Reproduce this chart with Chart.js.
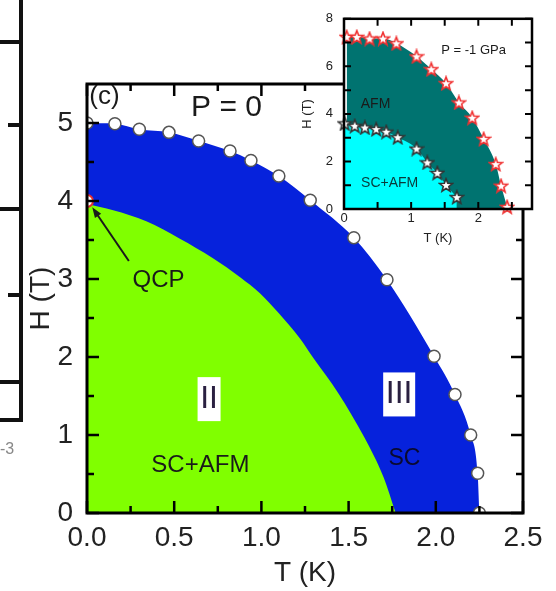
<!DOCTYPE html>
<html>
<head>
<meta charset="utf-8">
<script src="https://cdn.jsdelivr.net/npm/chart.js@4.4.1/dist/chart.umd.min.js"></script>
<style>
    html, body { margin: 0; padding: 0; background: #fff; }
    #wrap { position: relative; width: 556px; height: 591px; overflow: hidden; font-family: "Liberation Sans", Arial, sans-serif; }
    #main { position: absolute; left: 0; top: 0; }
    #inset { position: absolute; left: 290px; top: 0; }
    .ln { position: absolute; background: #111; }
    .txt { position: absolute; color: #888; font-size: 16px; }
</style>
</head>
<body>
<div id="wrap">
    <canvas id="main" width="556" height="591"></canvas>
    <canvas id="inset" width="266" height="255"></canvas>
    <!-- edge of the neighbouring panel, cut off at the left -->
    <div class="ln" style="left:19px;top:0;width:4px;height:422px"></div>
    <div class="ln" style="left:0;top:40px;width:21px;height:4px"></div>
    <div class="ln" style="left:8px;top:123px;width:13px;height:4px"></div>
    <div class="ln" style="left:0;top:207px;width:21px;height:4px"></div>
    <div class="ln" style="left:8px;top:293px;width:13px;height:4px"></div>
    <div class="ln" style="left:0;top:380px;width:21px;height:4px"></div>
    <div class="ln" style="left:0;top:418px;width:23px;height:4px"></div>
    <div class="txt" style="left:0;top:440px">-3</div>
</div>
<script>
// Main panel (c), P = 0 : upper critical field circles
const circT = [0, 0.16, 0.30, 0.47, 0.64, 0.82, 0.94, 1.10, 1.28, 1.53, 1.72, 1.99, 2.11, 2.20, 2.24, 2.25];
const circH = [5.00, 4.99, 4.92, 4.88, 4.77, 4.64, 4.52, 4.32, 4.01, 3.53, 2.99, 2.01, 1.52, 1.00, 0.51, 0];

// edge of the SC+AFM (green) region
const greenT = [0, 0.15, 0.34, 0.53, 0.72, 0.88, 0.99, 1.10, 1.22, 1.30, 1.44, 1.59, 1.70, 1.77];
const greenH = [3.96, 3.88, 3.74, 3.52, 3.27, 3.02, 2.82, 2.56, 2.24, 1.98, 1.54, 0.97, 0.46, 0];

const qcpT = [0];
const qcpH = [4];

const xTicks = [0, 0.5, 1.0, 1.5, 2.0, 2.5];
const xMinor = [0.25, 0.75, 1.25, 1.75, 2.25];
const yTicks = [0, 1, 2, 3, 4, 5];
const yMinor = [0.5, 1.5, 2.5, 3.5, 4.5];

// Inset, P = -1 GPa
const afmT = [0.04, 0.19, 0.38, 0.58, 0.78, 1.08, 1.30, 1.52, 1.71, 1.91, 2.08, 2.26, 2.34, 2.43];
const afmH = [7.24, 7.24, 7.17, 7.17, 6.97, 6.42, 5.88, 5.29, 4.48, 3.84, 2.95, 1.89, 0.98, 0.09];
const scT = [0.01, 0.16, 0.31, 0.48, 0.63, 0.80, 1.08, 1.24, 1.39, 1.52, 1.68];
const scH = [3.60, 3.50, 3.43, 3.36, 3.25, 3.02, 2.54, 1.96, 1.52, 1.01, 0.50];

const insetXTicks = [0, 1, 2];
const insetXMinor = [0.5, 1.5, 2.5];
const insetYTicks = [0, 2, 4, 6, 8];
const insetYMinor = [1, 3, 5, 7];

const pts = (xs, ys) => xs.map((x, i) => ({ x, y: ys[i] }));

Chart.defaults.font.family = '"Liberation Sans", Arial, sans-serif';
Chart.defaults.color = '#222';

// Inward ticks on all four sides plus the box
const frameTicks = (opt) => ({
    id: 'frameTicks',
    afterDatasetsDraw(chart) {
        const { ctx, chartArea: a, scales: { x, y } } = chart;
        ctx.save();
        ctx.strokeStyle = '#000';
        ctx.lineWidth = opt.tickWidth;
        ctx.beginPath();
        const xt = (vals, len) => vals.forEach(v => {
            const px = x.getPixelForValue(v);
            ctx.moveTo(px, a.bottom); ctx.lineTo(px, a.bottom - len);
            ctx.moveTo(px, a.top); ctx.lineTo(px, a.top + len);
        });
        const yt = (vals, len) => vals.forEach(v => {
            const py = y.getPixelForValue(v);
            ctx.moveTo(a.left, py); ctx.lineTo(a.left + len, py);
            ctx.moveTo(a.right, py); ctx.lineTo(a.right - len, py);
        });
        xt(opt.xMajor, opt.major); xt(opt.xMinor, opt.minor);
        yt(opt.yMajor, opt.major); yt(opt.yMinor, opt.minor);
        ctx.stroke();
        ctx.lineWidth = opt.frameWidth;
        ctx.strokeRect(a.left, a.top, a.right - a.left, a.bottom - a.top);
        ctx.restore();
    }
});

// Text notes placed in data coordinates
const notes = (list) => ({
    id: 'notes',
    afterDatasetsDraw(chart) {
        const { ctx, scales: { x, y } } = chart;
        ctx.save();
        list.forEach(n => {
            const px = x.getPixelForValue(n.x);
            const py = y.getPixelForValue(n.y);
            if (n.arrowTo) {
                const tx = x.getPixelForValue(n.arrowTo[0]);
                const ty = y.getPixelForValue(n.arrowTo[1]);
                const ang = Math.atan2(ty - py, tx - px);
                ctx.strokeStyle = '#1a1a1a';
                ctx.fillStyle = '#1a1a1a';
                ctx.lineWidth = 2;
                ctx.beginPath();
                ctx.moveTo(px, py);
                ctx.lineTo(tx - 6 * Math.cos(ang), ty - 6 * Math.sin(ang));
                ctx.stroke();
                ctx.beginPath();
                ctx.moveTo(tx, ty);
                ctx.lineTo(tx - 11 * Math.cos(ang - 0.35), ty - 11 * Math.sin(ang - 0.35));
                ctx.lineTo(tx - 11 * Math.cos(ang + 0.35), ty - 11 * Math.sin(ang + 0.35));
                ctx.closePath();
                ctx.fill();
                return;
            }
            if (n.box) {
                ctx.fillStyle = '#fff';
                ctx.fillRect(px - n.box[0] / 2, py - n.box[1] / 2, n.box[0], n.box[1]);
            }
            ctx.font = n.size + 'px "Liberation Sans", Arial, sans-serif';
            ctx.fillStyle = n.color || '#1a1a1a';
            ctx.textAlign = 'center';
            ctx.textBaseline = 'middle';
            ctx.fillText(n.text, px, py);
        });
        ctx.restore();
    }
});

const mainNotes = [
    { text: '(c)', x: 0.10, y: 5.33, size: 26 },
    { text: 'P = 0', x: 0.80, y: 5.19, size: 30 },
    { text: 'QCP', x: 0.41, y: 2.98, size: 24 },
    { x: 0.24, y: 3.23, arrowTo: [0.03, 3.92] },
    { text: 'II', x: 0.70, y: 1.46, size: 32, box: [23, 44], color: '#2a2040' },
    { text: 'III', x: 1.79, y: 1.52, size: 32, box: [32, 44], color: '#2a2040' },
    { text: 'SC+AFM', x: 0.65, y: 0.61, size: 24 },
    { text: 'SC', x: 1.82, y: 0.70, size: 23, color: '#0a0a30' }
];

const insetNotes = [
    { text: 'P = -1 GPa', x: 1.93, y: 6.68, size: 13 },
    { text: 'AFM', x: 0.47, y: 4.43, size: 14 },
    { text: 'SC+AFM', x: 0.68, y: 1.07, size: 14, color: '#0a3a3a' }
];

const hidden = { legend: { display: false }, tooltip: { enabled: false } };

new Chart(document.getElementById('main'), {
    type: 'line',
    data: {
        datasets: [
            {
                data: pts(circT, circH), showLine: false, order: 0,
                pointRadius: 6, pointBackgroundColor: '#fff', pointBorderColor: '#555', pointBorderWidth: 1.5
            },
            {
                data: pts(qcpT, qcpH), showLine: false, order: 0,
                pointRadius: 6, pointBackgroundColor: '#fff', pointBorderColor: '#e53030', pointBorderWidth: 2
            },
            {
                data: pts(greenT, greenH), order: 1, fill: 'origin', cubicInterpolationMode: 'monotone',
                backgroundColor: '#80ff00', borderColor: '#80ff00', borderWidth: 0, pointRadius: 0
            },
            {
                data: pts(circT, circH), order: 2, fill: 'origin', cubicInterpolationMode: 'monotone',
                backgroundColor: '#0622dc', borderColor: '#0622dc', borderWidth: 0, pointRadius: 0
            }
        ]
    },
    options: {
        responsive: false,
        animation: false,
        events: [],
        layout: { padding: { top: 84, right: 33, left: 0, bottom: 0 } },
        plugins: hidden,
        scales: {
            x: {
                type: 'linear', min: 0, max: 2.5,
                afterBuildTicks: s => { s.ticks = xTicks.map(v => ({ value: v })); },
                afterFit: s => { s.height = 78; },
                ticks: { font: { size: 28 }, color: '#222', padding: 8, maxRotation: 0, callback: v => v.toFixed(1) },
                grid: { display: false, drawTicks: false },
                border: { display: false },
                title: { display: true, text: 'T (K)', font: { size: 28 }, color: '#222', padding: { top: 0, bottom: 1 } }
            },
            y: {
                type: 'linear', min: 0, max: 5.5,
                afterBuildTicks: s => { s.ticks = yTicks.map(v => ({ value: v })); },
                afterFit: s => { s.width = 87; },
                ticks: { font: { size: 28 }, color: '#222', padding: 14 },
                grid: { display: false, drawTicks: false },
                border: { display: false },
                title: { display: true, text: 'H (T)', font: { size: 28 }, color: '#222', padding: { top: 24, bottom: 0 } }
            }
        }
    },
    plugins: [
        frameTicks({ xMajor: xTicks, xMinor, yMajor: yTicks, yMinor, major: 12, minor: 7, tickWidth: 2.5, frameWidth: 3 }),
        notes(mainNotes)
    ]
});

// five pointed star marker
function makeStar(stroke) {
    const c = document.createElement('canvas');
    c.width = 16; c.height = 16;
    const g = c.getContext('2d');
    g.beginPath();
    for (let i = 0; i < 10; i++) {
        const r = i % 2 ? 2.9 : 6.8;
        const a = -Math.PI / 2 + i * Math.PI / 5;
        g.lineTo(8 + r * Math.cos(a), 8.6 + r * Math.sin(a));
    }
    g.closePath();
    g.fillStyle = '#fff';
    g.fill();
    g.strokeStyle = stroke;
    g.lineWidth = 1.6;
    g.stroke();
    return c;
}

const whiteArea = {
    id: 'whiteArea',
    beforeDraw(chart) {
        const { ctx, chartArea: a } = chart;
        ctx.save();
        ctx.fillStyle = '#fff';
        ctx.fillRect(a.left, a.top, a.right - a.left, a.bottom - a.top);
        ctx.restore();
    }
};

new Chart(document.getElementById('inset'), {
    type: 'line',
    data: {
        datasets: [
            {
                data: pts(afmT, afmH), showLine: false, order: 0, clip: false,
                pointStyle: makeStar('#f03030'), pointRadius: 6
            },
            {
                data: pts(scT, scH), showLine: false, order: 0, clip: false,
                pointStyle: makeStar('#333'), pointRadius: 6
            },
            {
                data: pts(scT, scH), order: 1, fill: 'origin', cubicInterpolationMode: 'monotone',
                backgroundColor: '#00ffff', borderColor: '#00ffff', borderWidth: 0, pointRadius: 0
            },
            {
                data: pts(afmT, afmH), order: 2, fill: 'origin', cubicInterpolationMode: 'monotone',
                backgroundColor: '#007370', borderColor: '#007370', borderWidth: 0, pointRadius: 0
            }
        ]
    },
    options: {
        responsive: false,
        animation: false,
        events: [],
        layout: { padding: { top: 14, right: 24, left: 0, bottom: 0 } },
        plugins: hidden,
        scales: {
            x: {
                type: 'linear', min: 0, max: 2.8,
                afterBuildTicks: s => { s.ticks = insetXTicks.map(v => ({ value: v })); },
                afterFit: s => { s.height = 46; },
                ticks: { font: { size: 13 }, color: '#222', padding: 2, maxRotation: 0 },
                grid: { display: false, drawTicks: false },
                border: { display: false },
                title: { display: true, text: 'T (K)', font: { size: 13 }, color: '#222', padding: { top: 0, bottom: 9 } }
            },
            y: {
                type: 'linear', min: 0, max: 8,
                afterBuildTicks: s => { s.ticks = insetYTicks.map(v => ({ value: v })); },
                afterFit: s => { s.width = 54; },
                ticks: { font: { size: 13 }, color: '#222', padding: 11 },
                grid: { display: false, drawTicks: false },
                border: { display: false },
                title: { display: true, text: 'H (T)', font: { size: 13 }, color: '#222', padding: { top: 10, bottom: 0 } }
            }
        }
    },
    plugins: [
        whiteArea,
        frameTicks({ xMajor: insetXTicks, xMinor: insetXMinor, yMajor: insetYTicks, yMinor: insetYMinor, major: 7, minor: 7, tickWidth: 2, frameWidth: 2.5 }),
        notes(insetNotes)
    ]
});
</script>
</body>
</html>
